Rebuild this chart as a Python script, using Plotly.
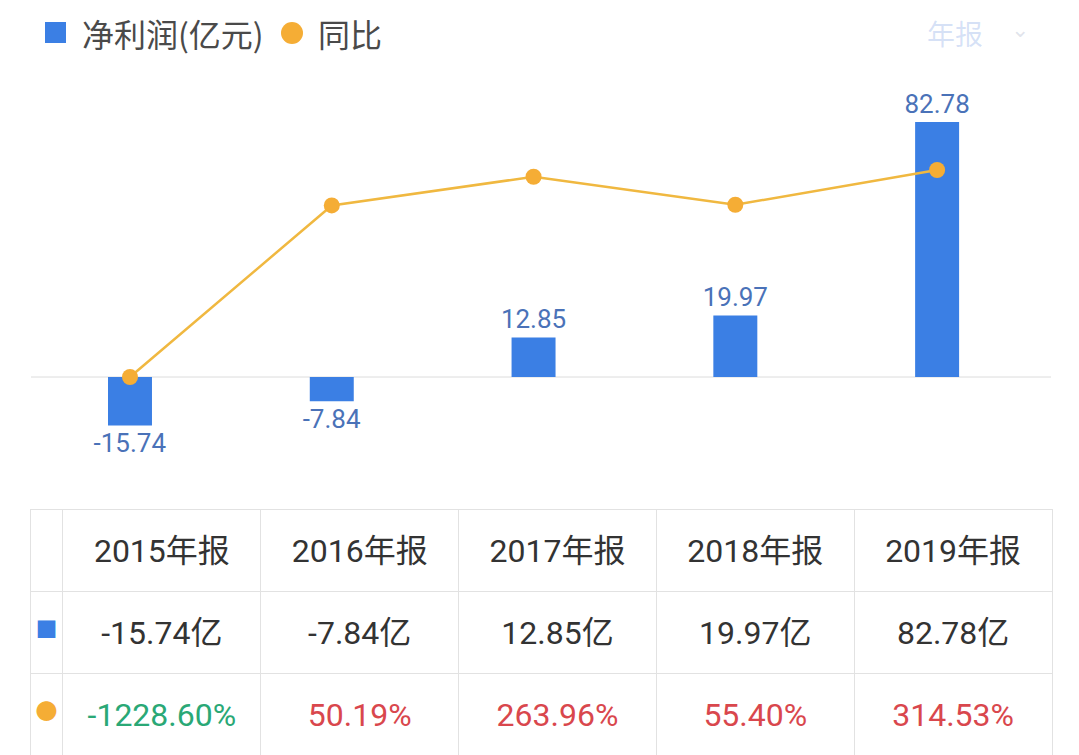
import plotly.graph_objects as go

W, H = 1079, 755

years = ["2015年报", "2016年报", "2017年报", "2018年报", "2019年报"]
profit = [-15.74, -7.84, 12.85, 19.97, 82.78]
yoy = [-1228.60, 50.19, 263.96, 55.40, 314.53]

BLUE = "#3b7fe4"
ORANGE = "#f5ad35"
LINE = "#f0b840"
LABEL = "#4a72b8"
GREEN = "#2aa876"
RED = "#d9474d"
GRID = "#e2e2e2"
TXT = "#333333"
FONT = "Roboto, 'Noto Sans CJK SC', sans-serif"
CJK = "'Noto Sans CJK SC', sans-serif"

def px_x(p):
    return p / W

def px_y(p):
    return 1 - p / H

fig = go.Figure()

fig.add_trace(go.Bar(
    x=years, y=profit, width=0.218, marker=dict(color=BLUE, line=dict(width=0)),
    text=[f"{v:.2f}" for v in profit], textposition="outside", constraintext="none",
    textfont=dict(size=26, color=LABEL, family=FONT), cliponaxis=False,
    name="净利润(亿元)", showlegend=False, yaxis="y",
))
fig.add_trace(go.Scatter(
    x=years, y=yoy, mode="lines+markers",
    line=dict(color=LINE, width=2.5),
    marker=dict(color=ORANGE, size=16),
    name="同比", showlegend=False, yaxis="y2", cliponaxis=False,
))

# ---- table ----
TL, TR = 30, 1052          # table left/right (px)
TTOP = 509                 # table top (px)
ROWH = 82                  # row height (px)
DY = 21                    # text offset to centre text vertically in rows
COLW = [33, 198, 198, 198, 198, 198]
FS = 32

# grid (borders only)
fig.add_trace(go.Table(
    domain=dict(x=[px_x(TL), px_x(TR)], y=[0, px_y(TTOP)]),
    columnwidth=COLW,
    header=dict(values=[""] * 6, height=ROWH, fill=dict(color="white"),
                line=dict(color=GRID, width=1), font=dict(size=FS)),
    cells=dict(values=[["", ""]] * 6, height=ROWH, fill=dict(color="white"),
               line=dict(color=GRID, width=1), font=dict(size=FS)),
))

# text rows 1-2 (years + profit)
row2_vals = [["■"]] + [[f"{p:.2f}亿"] for p in profit]
row2_cols = [[BLUE]] + [[TXT]] * 5
top_a = TTOP + DY
fig.add_trace(go.Table(
    domain=dict(x=[px_x(TL), px_x(TR)], y=[px_y(top_a + 2 * ROWH + 3), px_y(top_a)]),
    columnwidth=COLW,
    header=dict(values=[""] + years, height=ROWH, align="center",
                fill=dict(color="rgba(0,0,0,0)"), line=dict(color="rgba(0,0,0,0)", width=0),
                font=dict(size=FS, color=TXT, family=FONT)),
    cells=dict(values=row2_vals, height=ROWH, align="center",
               fill=dict(color="rgba(0,0,0,0)"), line=dict(color="rgba(0,0,0,0)", width=0),
               font=dict(size=[22] + [FS] * 5, color=row2_cols, family=FONT)),
))

# text row 3 (yoy)
row3_vals = ["●"] + [f"{g:.2f}%" for g in yoy]
row3_cols = [ORANGE] + [GREEN if g < 0 else RED for g in yoy]
top_b = TTOP + 2 * ROWH + DY
fig.add_trace(go.Table(
    domain=dict(x=[px_x(TL), px_x(TR)], y=[0, px_y(top_b)]),
    columnwidth=COLW,
    header=dict(values=row3_vals, height=H - top_b - 2, align="center",
                fill=dict(color="rgba(0,0,0,0)"), line=dict(color="rgba(0,0,0,0)", width=0),
                font=dict(size=[22] + [FS] * 5, color=row3_cols, family=FONT)),
    cells=dict(values=[[]] * 6, height=1,
               fill=dict(color="rgba(0,0,0,0)"), line=dict(color="rgba(0,0,0,0)", width=0)),
))

ytop, ybot = 90, 470
fig.update_layout(
    width=W, height=H,
    margin=dict(l=0, r=0, t=0, b=0),
    paper_bgcolor="white", plot_bgcolor="white",
    showlegend=False,
    xaxis=dict(domain=[px_x(29.1), px_x(1038)], range=[-0.5, 4.5],
               showgrid=False, showticklabels=False, zeroline=False, showline=False, ticks=""),
    yaxis=dict(domain=[px_y(ybot), px_y(ytop)], range=[-30.19, 93.17],
               showgrid=False, showticklabels=False, zeroline=False, showline=False),
    yaxis2=dict(domain=[px_y(ybot), px_y(ytop)], range=[-1921.9, 910.9], overlaying="y",
                showgrid=False, showticklabels=False, zeroline=False, showline=False),
    font=dict(family=FONT),
)

# zero line
fig.add_shape(type="line", xref="paper", yref="y", x0=px_x(31), x1=px_x(1051), y0=0, y1=0,
              line=dict(color="#dcdcdc", width=1), layer="below")

# legend (manual)
fig.add_shape(type="rect", xref="paper", yref="paper",
              x0=px_x(45), x1=px_x(66), y0=px_y(43), y1=px_y(22),
              fillcolor=BLUE, line=dict(width=0))
fig.add_shape(type="circle", xref="paper", yref="paper",
              x0=px_x(281), x1=px_x(303), y0=px_y(44), y1=px_y(22),
              fillcolor=ORANGE, line=dict(width=0))
fig.add_annotation(text="净利润(亿元)", xref="paper", yref="paper", x=px_x(80), y=px_y(33),
                   xanchor="left", yanchor="middle", showarrow=False,
                   font=dict(size=32, color="#4a4a4a", family=CJK))
fig.add_annotation(text="同比", xref="paper", yref="paper", x=px_x(316), y=px_y(33),
                   xanchor="left", yanchor="middle", showarrow=False,
                   font=dict(size=32, color="#4a4a4a", family=CJK))
# blurred selector (top right)
fig.add_annotation(text="年报", xref="paper", yref="paper", x=px_x(955), y=px_y(33),
                   xanchor="center", yanchor="middle", showarrow=False,
                   font=dict(size=28, color="rgba(110,150,225,0.28)", family=CJK))
fig.add_annotation(text="⌄", xref="paper", yref="paper", x=px_x(1020), y=px_y(30),
                   xanchor="center", yanchor="middle", showarrow=False,
                   font=dict(size=22, color="rgba(150,160,190,0.3)"))

fig.write_html("out.html")
